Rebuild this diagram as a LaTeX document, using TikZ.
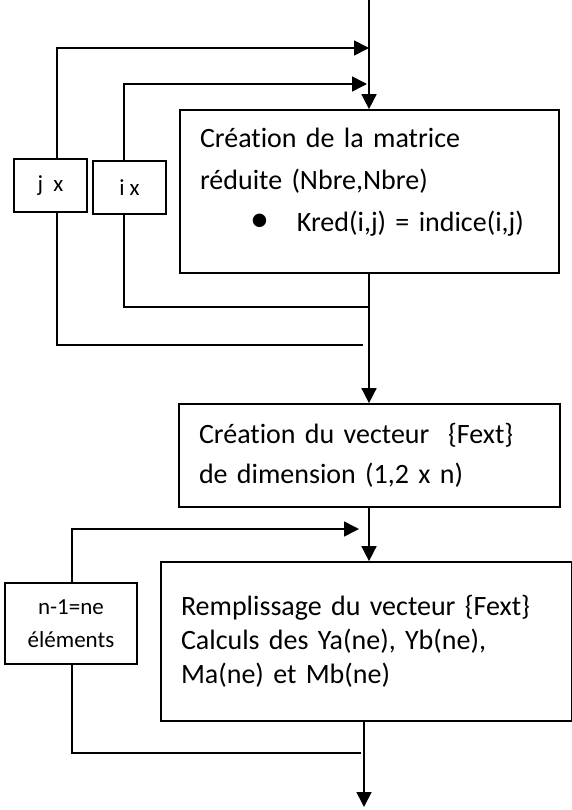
\documentclass[tikz,border=0pt]{standalone}
\usepackage{fontspec}
\setmainfont{Carlito}[Ligatures=NoCommon]
\usetikzlibrary{arrows.meta}

\begin{document}
\begin{tikzpicture}[
  x=1pt, y=-1pt,
  box/.style={draw, line width=1.7pt, align=left, inner xsep=20pt, inner ysep=0pt, font=\fontsize{28}{42}\selectfont},
  loopbox/.style={draw, line width=1.7pt, align=center, inner sep=0pt, font=\fontsize{23}{33}\selectfont},
  arr/.style={-{Triangle[length=15pt,width=15pt]}, line width=1.6pt},
  ln/.style={line width=1.6pt}
]
\useasboundingbox (0,0) rectangle (572,810);

\node[box, text width=339pt, minimum height=163pt] (matrice) at (369.5,191.5) {Création de la matrice\\réduite (Nbre,Nbre)\\\hspace*{50pt}{\fontsize{38}{42}\selectfont\textbullet}\hspace{28pt}Kred(i,j) = indice(i,j)\par\kern19pt\hrule height0pt width0pt};
\node[box, text width=341pt, minimum height=103pt, font=\fontsize{28}{40}\selectfont] (vecteur) at (369.5,455.5) {Création du vecteur~ \{Fext\}\\de dimension (1,2 x n)};
\node[box, text width=371pt, minimum height=159pt, font=\fontsize{28}{34}\selectfont] (remplissage) at (366.5,641.5) {Remplissage du vecteur \{Fext\}\\Calculs des Ya(ne), Yb(ne),\\Ma(ne) et Mb(ne)};

\node[loopbox, minimum width=73pt, minimum height=53pt] (jx) at (50.5,185.5) {j~~x};
\node[loopbox, minimum width=73pt, minimum height=53pt] (ix) at (129.5,187.5) {i x};
\node[loopbox, minimum width=132pt, minimum height=81pt] (nbox) at (71,623.5) {n-1=ne\\éléments};

\coordinate (top) at (369,0);
\coordinate (jcol) at (57,48);
\coordinate (jin) at (369,48);
\coordinate (icol) at (124,84);
\coordinate (iin) at (367,84);
\coordinate (iout) at (369,307);
\coordinate (jout) at (363,345);
\coordinate (ncol) at (72,529);
\coordinate (nin) at (359,529);
\coordinate (nout) at (361,753);
\coordinate (bottom) at (364,807);

\draw[arr] (top) -- (top |- matrice.north);
\draw[arr] (jx.north -| jcol) -- (jcol) -- (jin);
\draw[ln] (jx.south -| jcol) |- (jout);
\draw[arr] (ix.north -| icol) -- (icol) -- (iin);
\draw[ln] (ix.south -| icol) |- (iout);
\draw[arr] (matrice.south -| top) -- (vecteur.north -| top);
\draw[arr] (vecteur.south -| top) -- (remplissage.north -| top);
\draw[arr] (nbox.north -| ncol) -- (ncol) -- (nin);
\draw[ln] (nbox.south -| ncol) |- (nout);
\draw[arr] (remplissage.south -| bottom) -- (bottom);

\end{tikzpicture}
\end{document}
